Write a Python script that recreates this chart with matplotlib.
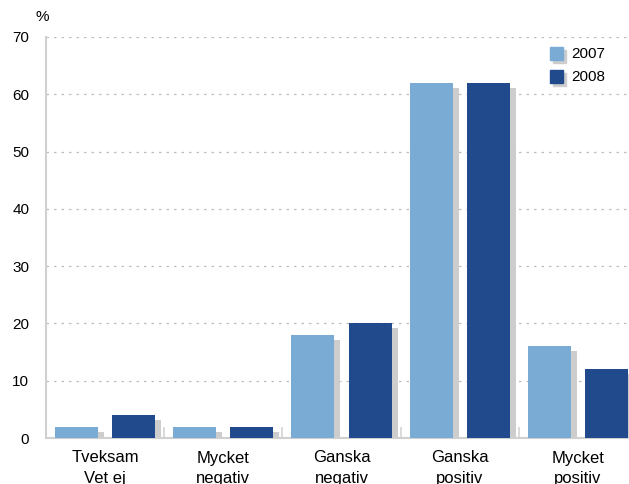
import matplotlib
matplotlib.use("Agg")
import matplotlib.pyplot as plt
import matplotlib.transforms as mtransforms
from matplotlib.patches import Rectangle
import numpy as np

categories = ["Tveksam\nVet ej", "Mycket\nnegativ", "Ganska\nnegativ", "Ganska\npositiv", "Mycket\npositiv"]
series_names = ["2007", "2008"]
values_2007 = [2, 2, 18, 62, 16]
values_2008 = [4, 2, 20, 62, 12]
y_ticks = [0, 10, 20, 30, 40, 50, 60, 70]

light_blue = "#7aabd5"
dark_blue = "#204a8b"
shadow_grey = "#cdcdcd"
grid_grey = "#bdbdbd"

plt.rcParams["font.family"] = ["Liberation Sans", "DejaVu Sans"]

W, H = 629, 484
fig = plt.figure(figsize=(W / 100, H / 100), dpi=100)
ax = fig.add_axes([46 / W, 46 / H, 591 / W, 401 / H])

x = np.arange(len(categories))
bar_w = 43 / 118
off = 28.5 / 118

# drop shadow: same bar shifted right and down
shadow_tf = ax.transData + mtransforms.ScaledTranslation(6 / 100, -5 / 100, fig.dpi_scale_trans)

for vals, color, dx in [(values_2007, light_blue, -off), (values_2008, dark_blue, off)]:
    ax.bar(x + dx, vals, width=bar_w, color=shadow_grey, transform=shadow_tf, zorder=2, linewidth=0)
    ax.bar(x + dx, vals, width=bar_w, color=color, zorder=3, linewidth=0)

ax.set_xlim(-0.5, 4.5)
ax.set_ylim(0, 70)
ax.set_yticks(y_ticks)
ax.set_yticklabels([str(v) for v in y_ticks], fontsize=11)
ax.set_xticks(x)
ax.set_xticklabels(categories, fontsize=12, linespacing=1.45)
ax.set_xticks(x[:-1] + 0.5, minor=True)
ax.tick_params(axis="y", length=0, pad=12)
ax.tick_params(axis="x", which="major", length=0, pad=9)
ax.tick_params(axis="x", which="minor", direction="in", length=8, width=1.2, color="#d4d4d4")

for v in y_ticks[1:]:
    ax.axhline(v, color=grid_grey, linestyle=(0, (2, 4)), linewidth=0.9, zorder=1)

for s in ["top", "right"]:
    ax.spines[s].set_visible(False)
for s in ["left", "bottom"]:
    ax.spines[s].set_color("#d0d0d0")
    ax.spines[s].set_linewidth(1.5)

fig.text(42 / W, 1 - 17 / H, "%", fontsize=11, ha="center", va="center")

# legend with shadowed swatches
for i, (name, color) in enumerate(zip(series_names, [light_blue, dark_blue])):
    y0 = 47 + i * 23
    fig.patches.append(Rectangle((553 / W, 1 - (y0 + 16) / H), 13 / W, 13 / H,
                                 transform=fig.transFigure, color=shadow_grey, zorder=5))
    fig.patches.append(Rectangle((550 / W, 1 - (y0 + 13) / H), 13 / W, 13 / H,
                                 transform=fig.transFigure, color=color, zorder=6))
    fig.text(571 / W, 1 - (y0 + 7) / H, name, fontsize=11, ha="left", va="center")

fig.savefig("out.png", dpi=100)
